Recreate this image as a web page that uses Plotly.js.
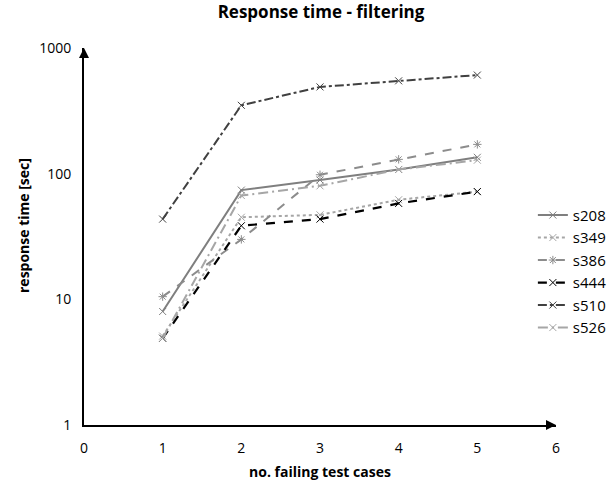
<!DOCTYPE html>
<html><head><meta charset="utf-8">
<script src="https://cdn.plot.ly/plotly-3.0.1.min.js"></script>
<style>body{margin:0;background:#fff}#c{width:615px;height:481px}</style>
</head><body><div id="c"></div>
<script>
const xVals = [1, 2, 3, 4, 5];
const s208 = [8.0, 74, 89, 108, 135];
const s349 = [5.1, 45, 47, 62, 72];
const s386 = [10.5, 30, 98, 130, 171];
const s444 = [4.9, 38.5, 43.5, 58, 72];
const s510 = [43.5, 350, 490, 548, 609];
const s526 = [4.9, 67, 80, 108, 128];
const yTicks = [1, 10, 100, 1000];
const xTicks = [0, 1, 2, 3, 4, 5, 6];

function tr(name, y, color, dash, width, symbol) {
  return {x: xVals, y: y, name: name, type: 'scatter', mode: 'lines+markers',
    line: {color: color, dash: dash, width: width},
    marker: {symbol: symbol, size: 7, color: color, line: {color: color, width: 1}}};
}
const data = [
  tr('s208', s208, '#7f7f7f', 'solid', 2, 'x-thin-open'),
  tr('s349', s349, '#a6a6a6', 'dot', 2, 'x-thin-open'),
  tr('s386', s386, '#8c8c8c', 'dash', 2, 'asterisk-open'),
  tr('s444', s444, '#000000', 'dash', 2.2, 'x-thin-open'),
  tr('s510', s510, '#404040', 'dashdot', 2, 'x-thin-open'),
  tr('s526', s526, '#a6a6a6', '10px,4px,2px,4px', 2, 'x-thin-open')
];
const font = {family: 'Open Sans, Lato, sans-serif', color: '#000'};
const layout = {
  width: 615, height: 481,
  margin: {l: 84, r: 59, t: 48, b: 56, autoexpand: false},
  paper_bgcolor: '#fff', plot_bgcolor: '#fff',
  font: Object.assign({size: 14}, font),
  title: {text: '<b>Response time - filtering</b>', x: 0.522, xanchor: 'center', y: 0.988, yanchor: 'top',
    font: {family: 'Open Sans, sans-serif', size: 17, color: '#000'}},
  xaxis: {range: [0, 6], tickvals: xTicks, ticktext: xTicks.map(String), showgrid: false, zeroline: false,
    showline: true, linecolor: '#000', linewidth: 2, ticks: '', ticklabelstandoff: 9,
    tickfont: {size: 14, color: '#000'},
    title: {text: '<b>no. failing test cases</b>', standoff: 15, font: {size: 14, color: '#000'}}},
  yaxis: {type: 'log', range: [0, 3], tickvals: yTicks, ticktext: yTicks.map(String), showgrid: false, zeroline: false,
    showline: true, linecolor: '#000', linewidth: 2, ticks: '', ticklabelstandoff: 8,
    tickfont: {size: 14, color: '#000'}},
  legend: {x: 0.951, xanchor: 'left', y: 0.60, yanchor: 'top',
    bgcolor: 'rgba(0,0,0,0)', font: {size: 15, color: '#000'}, itemwidth: 30, tracegroupgap: 0},
  annotations: [
    {xref: 'paper', yref: 'paper', x: -0.127, y: 0.528, xanchor: 'center', yanchor: 'middle', textangle: -90,
     showarrow: false, text: '<b>response time [sec]</b>', font: {size: 14, color: '#000'}},
    {xref: 'paper', yref: 'paper', x: 1, y: 0, ax: -8, ay: 0, axref: 'pixel', ayref: 'pixel',
     showarrow: true, arrowhead: 2, arrowsize: 1, arrowwidth: 2, arrowcolor: '#000', text: ''},
    {xref: 'paper', yref: 'paper', x: 0, y: 1, ax: 0, ay: 8, axref: 'pixel', ayref: 'pixel',
     showarrow: true, arrowhead: 2, arrowsize: 1, arrowwidth: 2, arrowcolor: '#000', text: ''}
  ]
};
Plotly.newPlot('c', data, layout, {displayModeBar: false, staticPlot: true});
</script></body></html>
